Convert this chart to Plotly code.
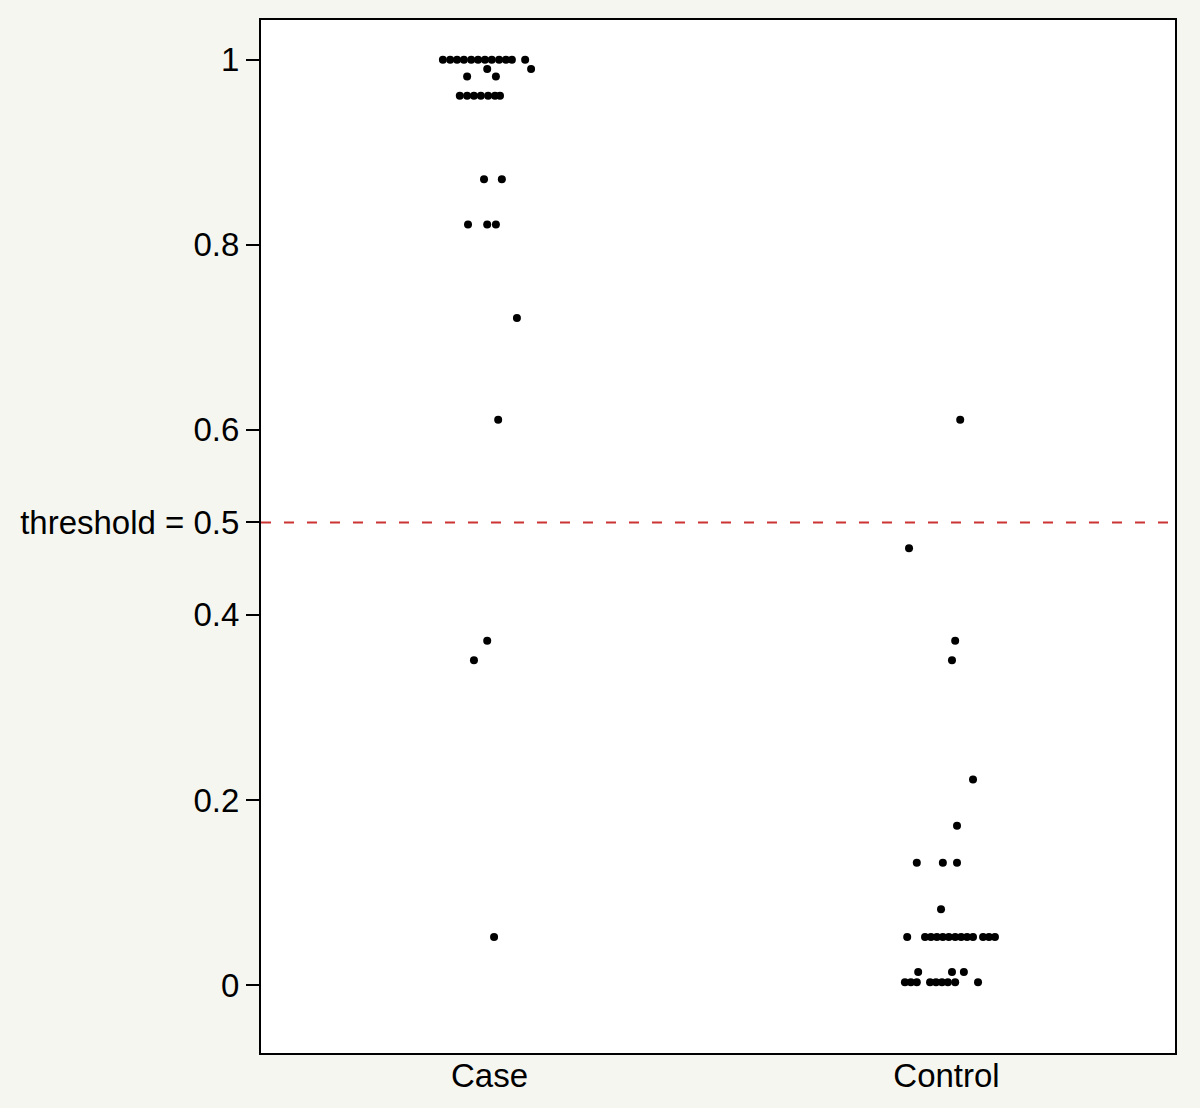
import plotly.graph_objects as go

# --- Predicted probabilities ---
# jitter = horizontal offset from the group centre, in category units
case_y = [1.0, 1.0, 1.0, 1.0, 1.0, 1.0, 1.0, 1.0, 1.0, 1.0, 1.0, 1.0,
          0.99, 0.99, 0.982, 0.982,
          0.961, 0.961, 0.961, 0.961, 0.961, 0.961, 0.961,
          0.871, 0.871, 0.822, 0.822, 0.822,
          0.721, 0.611, 0.372, 0.351, 0.052]
case_jitter = [-0.102, -0.086, -0.071, -0.056, -0.040, -0.025, -0.010, 0.005, 0.021, 0.036, 0.049, 0.078,
               -0.005, 0.091, -0.049, 0.014,
               -0.065, -0.049, -0.034, -0.019, -0.003, 0.012, 0.023,
               -0.012, 0.027, -0.047, -0.005, 0.014,
               0.060, 0.019, -0.005, -0.034, 0.010]

control_y = [0.611, 0.472, 0.372, 0.351, 0.222, 0.172,
             0.132, 0.132, 0.132, 0.082,
             0.052, 0.052, 0.052, 0.052, 0.052, 0.052, 0.052, 0.052, 0.052, 0.052, 0.052, 0.052, 0.052,
             0.014, 0.014, 0.014,
             0.003, 0.003, 0.003, 0.003, 0.003, 0.003, 0.003, 0.003, 0.003]
control_jitter = [0.030, -0.082, 0.019, 0.012, 0.058, 0.023,
                  -0.065, -0.008, 0.023, -0.012,
                  -0.086, -0.047, -0.034, -0.021, -0.008, 0.005, 0.019, 0.032, 0.045, 0.058, 0.080, 0.093, 0.106,
                  -0.062, 0.012, 0.038,
                  -0.091, -0.078, -0.065, -0.036, -0.023, -0.010, 0.003, 0.019, 0.069]

groups = ["Case", "Control"]
threshold = 0.5
y_tickvals = [0, 0.2, 0.4, 0.5, 0.6, 0.8, 1]
y_ticktext = ["0", "0.2", "0.4", "threshold = 0.5", "0.6", "0.8", "1"]

font = "Liberation Sans, Arial, Helvetica, sans-serif"
bg = "#f6f6f1"

fig = go.Figure()

for i, (ys, jit) in enumerate([(case_y, case_jitter), (control_y, control_jitter)]):
    fig.add_trace(go.Scatter(
        x=[i + 1 + j for j in jit],
        y=ys,
        mode="markers",
        marker=dict(color="black", size=8),
        name=groups[i],
        showlegend=False
    ))

# --- threshold line ---
fig.add_hline(y=threshold, line=dict(color="#cc3333", width=2, dash="10px,13px"))

fig.update_layout(
    width=1200,
    height=1108,
    margin=dict(l=261, r=25, t=20, b=55, autoexpand=False),
    paper_bgcolor=bg,
    plot_bgcolor="white",
    font=dict(family=font, size=33, color="black"),
    xaxis=dict(
        range=[0.5, 2.5],
        tickvals=[1, 2],
        ticktext=groups,
        showgrid=False,
        zeroline=False,
        showline=True,
        linecolor="black",
        linewidth=2,
        mirror=True,
        ticks="",
        ticklabelstandoff=-8,
    ),
    yaxis=dict(
        range=[-0.0735, 1.043],
        tickvals=y_tickvals,
        ticktext=y_ticktext,
        showgrid=False,
        zeroline=False,
        showline=True,
        linecolor="black",
        linewidth=2,
        mirror=True,
        ticks="outside",
        ticklen=13,
        tickwidth=2,
        tickcolor="black",
    )
)

# drop the browser's default page margin so the figure sits at (0, 0)
fig.write_html(
    "out.html",
    config={"displayModeBar": False},
    post_script="document.body.style.margin='0';document.body.style.background='%s';" % bg
)
